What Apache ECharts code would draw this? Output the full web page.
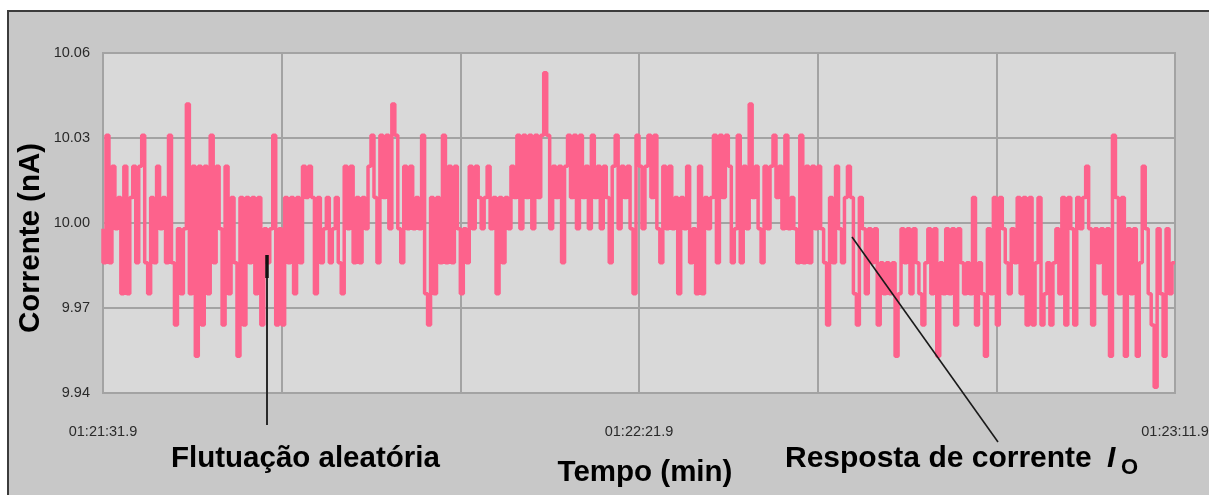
<!DOCTYPE html>
<html>
<head>
<meta charset="utf-8">
<script src="https://cdn.jsdelivr.net/npm/echarts@6/dist/echarts.min.js"></script>
<style>
  html, body { margin: 0; padding: 0; background: #ffffff; overflow: hidden; }
  #frame { position: absolute; left: 7px; top: 10px; width: 1230px; height: 520px;
           background: #c8c8c8; border-top: 2px solid #3c3c3c; border-left: 2px solid #3c3c3c; }
  #chart { position: absolute; left: 0; top: 0; width: 1209px; height: 495px; }
</style>
</head>
<body>
<div id="frame"></div>
<div id="chart"></div>
<script>
// Time axis: 100 s of recording, labels every 50 s
const durationSec = 100;
const timeTickPositions = [0, 50, 100];
const timeTickLabels = ['01:21:31.9', '01:22:21.9', '01:23:11.9'];

// Current axis (nA)
const currentMin = 9.94;
const currentMax = 10.06;
const currentStep = 0.03;

// Measured current (nA), evenly sampled over the recording
const current = [
  9.998, 9.986, 10.031, 9.986, 10.020, 9.998, 10.009, 9.975, 10.020, 9.975, 10.009,
  10.020, 9.986, 10.020, 10.031, 9.986, 9.975, 10.009, 9.986, 10.020, 9.998,
  10.009, 9.986, 10.031, 9.986, 9.964, 9.998, 9.975, 9.998, 10.042, 9.975,
  10.020, 9.953, 10.020, 9.964, 10.020, 9.975, 10.031, 9.986, 10.020, 9.998,
  9.964, 10.020, 9.975, 10.009, 9.986, 9.953, 10.009, 9.964, 10.009, 9.986,
  10.009, 9.975, 10.009, 9.964, 9.998, 9.986, 9.998, 10.031, 9.964, 9.998,
  9.964, 10.009, 9.986, 10.009, 9.975, 10.009, 9.986, 10.020, 10.009, 10.020,
  10.009, 9.975, 10.009, 9.986, 9.998, 10.009, 9.986, 9.998, 10.009, 9.986,
  9.975, 10.020, 9.998, 10.020, 9.986, 10.009, 9.986, 10.009, 9.998, 10.020,
  10.031, 10.009, 9.986, 10.031, 10.009, 10.031, 9.998, 10.042, 10.031, 9.998,
  9.986, 10.020, 9.998, 10.020, 9.998, 10.009, 9.998, 10.031, 9.975, 9.964,
  10.009, 9.975, 10.009, 9.986, 10.031, 9.986, 10.020, 9.986, 10.020, 9.998,
  9.975, 9.998, 9.986, 10.020, 9.998, 10.020, 10.009, 9.998, 10.009, 10.020,
  9.998, 10.009, 9.975, 10.009, 9.986, 10.009, 9.998, 10.020, 10.009, 10.031,
  9.998, 10.031, 10.009, 10.031, 9.998, 10.031, 10.009, 10.031, 10.053, 10.031,
  9.998, 10.020, 10.009, 10.020, 9.986, 10.020, 10.031, 10.009, 10.031, 9.998,
  10.031, 10.009, 10.020, 9.998, 10.031, 10.009, 10.020, 9.998, 10.020, 10.009,
  9.986, 10.020, 10.031, 9.998, 10.020, 10.009, 10.020, 9.998, 9.975, 10.031,
  10.020, 9.998, 10.020, 10.031, 10.009, 10.031, 9.998, 9.986, 10.020, 9.998,
  10.020, 9.998, 10.009, 9.975, 10.009, 9.998, 10.020, 9.986, 9.998, 9.975,
  10.020, 9.975, 10.009, 9.998, 10.009, 10.031, 9.986, 10.031, 10.009, 10.031,
  10.020, 9.986, 9.998, 10.031, 9.986, 10.020, 9.998, 10.042, 10.009, 10.020,
  9.998, 9.986, 10.020, 9.998, 10.020, 10.031, 10.009, 10.020, 9.998, 10.031,
  9.998, 10.009, 9.998, 9.986, 10.031, 9.986, 10.020, 9.986, 10.020, 9.998,
  10.020, 9.998, 9.986, 9.964, 10.009, 9.986, 10.020, 9.998, 9.986, 10.009,
  10.020, 10.009, 9.975, 9.964, 10.009, 9.998, 9.975, 9.998, 9.986, 9.998,
  9.964, 9.986, 9.975, 9.986, 9.975, 9.986, 9.953, 9.975, 9.998, 9.986,
  9.998, 9.975, 9.998, 9.986, 9.975, 9.964, 9.986, 9.998, 9.975, 9.998,
  9.953, 9.986, 9.975, 9.998, 9.975, 9.998, 9.964, 9.998, 9.986, 9.975,
  9.986, 9.975, 10.009, 9.964, 9.986, 9.975, 9.953, 9.998, 9.975, 10.009,
  9.964, 10.009, 9.998, 9.986, 9.975, 9.998, 9.986, 10.009, 9.975, 10.009,
  9.964, 10.009, 9.964, 9.986, 10.009, 9.964, 9.975, 9.986, 9.964, 9.986,
  9.998, 9.975, 10.009, 9.964, 10.009, 9.998, 9.964, 10.009, 9.998, 10.009,
  10.020, 9.998, 9.964, 9.998, 9.986, 9.998, 9.975, 9.998, 9.953, 10.031,
  10.009, 9.975, 10.009, 9.953, 9.998, 9.975, 9.998, 9.953, 9.986, 10.020,
  9.998, 9.975, 9.964, 9.942, 9.998, 9.975, 9.953, 9.998, 9.975, 9.986
];

const sampleStep = durationSec / (current.length - 1);
const seriesData = current.map((v, i) => [i * sampleStep, v]);

const tickFont = "'Liberation Sans', Arial, sans-serif";
const titleFont = "'Liberation Sans', Arial, sans-serif";

const chart = echarts.init(document.getElementById('chart'));
chart.setOption({
  backgroundColor: 'transparent',
  animation: false,
  grid: {
    left: 103, top: 53, right: 34, bottom: 102,
    outerBoundsMode: 'none', containLabel: false,
    show: true, backgroundColor: '#d9d9d9', borderColor: '#a3a3a3', borderWidth: 2
  },
  xAxis: {
    type: 'value', min: 0, max: durationSec, interval: durationSec / 6,
    axisLine: { show: false }, axisTick: { show: false },
    splitLine: { show: true, lineStyle: { color: '#a3a3a3', width: 2 } },
    axisLabel: {
      margin: 31, fontFamily: tickFont, fontSize: 14.5, color: '#2a2a2a',
      showMinLabel: true, showMaxLabel: true,
      formatter: function (v) {
        const k = timeTickPositions.findIndex(p => Math.abs(p - v) < 0.01);
        return k >= 0 ? timeTickLabels[k] : '';
      }
    },
    name: 'Tempo (min)', nameLocation: 'middle', nameGap: 65, nameMoveOverlap: false,
    nameTextStyle: { fontFamily: titleFont, fontWeight: 'bold', fontSize: 29.5, color: '#000', padding: [0, 0, 0, 12] }
  },
  yAxis: {
    type: 'value', min: currentMin, max: currentMax, interval: currentStep,
    axisLine: { show: false }, axisTick: { show: false },
    splitLine: { show: true, lineStyle: { color: '#a3a3a3', width: 2 } },
    axisLabel: {
      margin: 13, fontFamily: tickFont, fontSize: 14.5, color: '#2a2a2a',
      formatter: v => v.toFixed(2)
    },
    name: 'Corrente (nA)', nameLocation: 'middle', nameGap: 57, nameRotate: 90, nameMoveOverlap: false,
    nameTextStyle: { fontFamily: titleFont, fontWeight: 'bold', fontSize: 29.5, color: '#000', padding: [0, 30, 0, 0] }
  },
  series: [{
    type: 'line', data: seriesData, step: 'start', symbol: 'none', silent: true,
    lineStyle: { color: '#fd628c', width: 3.5 }
  }],
  graphic: [
    { type: 'line', shape: { x1: 267, y1: 256, x2: 267, y2: 425 }, style: { stroke: '#2a2a2a', lineWidth: 2 }, z: 100 },
    { type: 'line', shape: { x1: 267, y1: 255, x2: 267, y2: 278 }, style: { stroke: '#111', lineWidth: 3.5 }, z: 100 },
    { type: 'line', shape: { x1: 852, y1: 237, x2: 998, y2: 442 }, style: { stroke: '#1a1a1a', lineWidth: 1.6 }, z: 100 },
    { type: 'text', left: 171, top: 444, z: 100,
      style: { text: 'Flutuação aleatória', font: "bold 29.5px 'Liberation Sans', Arial, sans-serif", fill: '#000' } },
    { type: 'text', left: 785, top: 444, z: 100,
      style: { text: 'Resposta de corrente', font: "bold 30px 'Liberation Sans', Arial, sans-serif", fill: '#000' } },
    { type: 'text', left: 1107, top: 444, z: 100,
      style: { text: 'I', font: "italic bold 30px 'Liberation Sans', Arial, sans-serif", fill: '#000' } },
    { type: 'text', left: 1121, top: 457, z: 100,
      style: { text: 'O', font: "bold 22px 'Liberation Sans', Arial, sans-serif", fill: '#000' } }
  ]
});
</script>
</body>
</html>
